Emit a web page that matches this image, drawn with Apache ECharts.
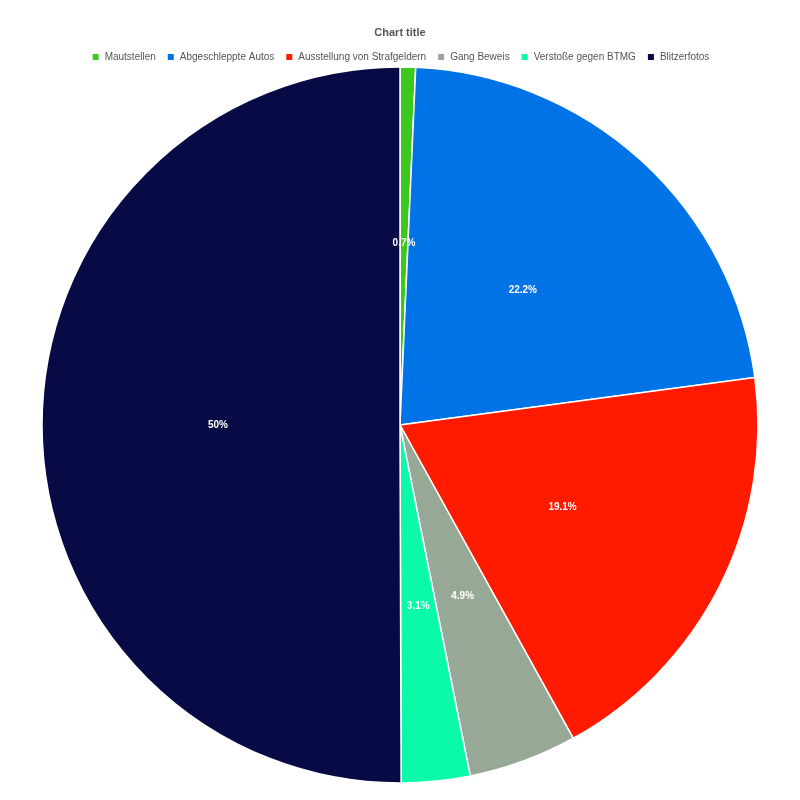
<!DOCTYPE html>
<html><head><meta charset="utf-8">
<script src="https://cdn.jsdelivr.net/npm/echarts@6/dist/echarts.min.js"></script>
<style>html,body{margin:0;padding:0;background:#fff}#c{width:800px;height:800px}</style>
</head><body><div id="c"></div>
<script>
const categories = ["Mautstellen","Abgeschleppte Autos","Ausstellung von Strafgeldern","Gang Beweis","Verstoße gegen BTMG","Blitzerfotos"];
const values = [0.7, 22.2, 19.1, 4.9, 3.1, 50.1];
const colors = ["#3cc81e","#0073e6","#ff1a00","#98a897","#0afaaa","#070a44"];
const chart = echarts.init(document.getElementById('c'));
chart.setOption({
  animation:false,
  title:{text:"Chart title",left:'center',top:22,textStyle:{fontSize:11,color:'#555',fontWeight:'bold',fontFamily:'Liberation Sans, Arial'}},
  legend:{top:47,left:'center',itemWidth:8,itemHeight:8,itemGap:10,icon:'rect',textStyle:{fontSize:10,color:'#555',fontFamily:'Liberation Sans, Arial'}},
  color:colors,
  series:[{type:'pie',center:[400,425],radius:[0,358],startAngle:90,clockwise:true,percentPrecision:1,
    itemStyle:{borderColor:'#fff',borderWidth:1.5},
    label:{position:'inside',formatter:'{d}%',color:'#fff',fontSize:10,fontWeight:'bold',fontFamily:'Liberation Sans, Arial'},
    labelLine:{show:false},
    data:categories.map((n,i)=>({name:n,value:values[i]}))}]
});
</script></body></html>
